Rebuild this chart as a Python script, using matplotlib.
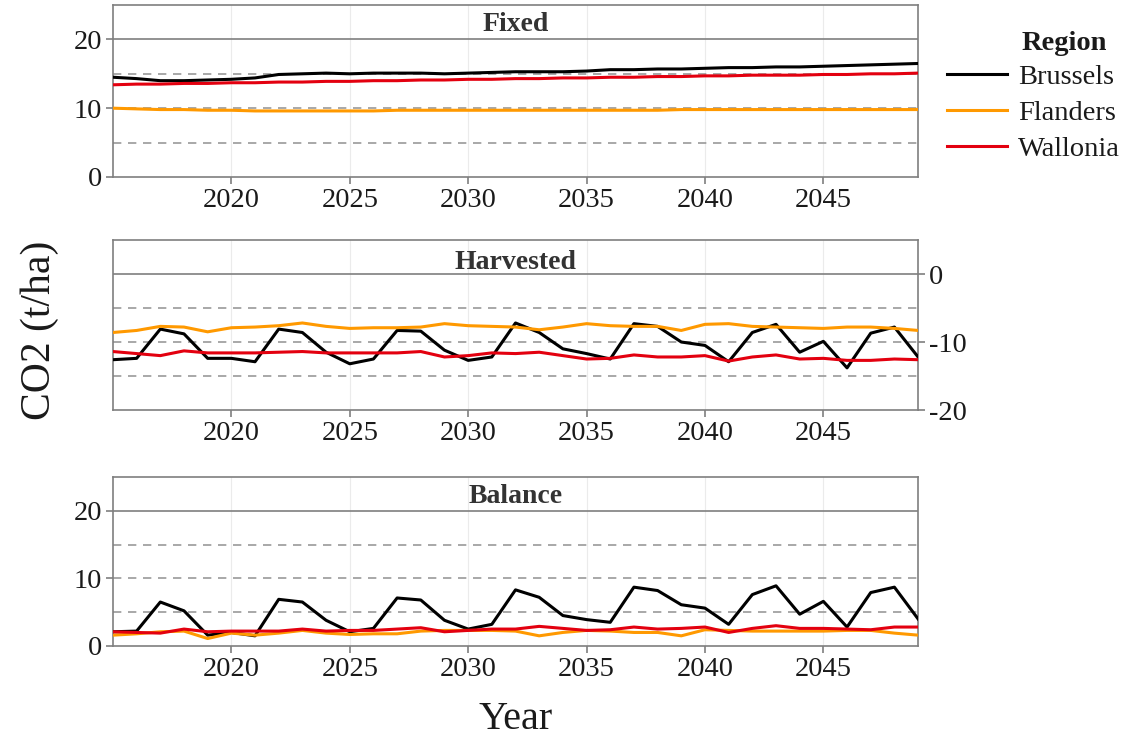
import matplotlib.pyplot as plt
import numpy as np

plt.rcParams['font.family'] = ['Liberation Serif', 'DejaVu Serif']
plt.rcParams['axes.unicode_minus'] = False

years = list(range(2015, 2050))

# Fixed
fixed_brussels = [14.5, 14.3, 14.0, 14.0, 14.1, 14.2, 14.4, 14.9, 15.0, 15.1, 15.0, 15.1, 15.1, 15.1, 15.0, 15.1,
                  15.2, 15.3, 15.3, 15.3, 15.4, 15.6, 15.6, 15.7, 15.7, 15.8, 15.9, 15.9, 16.0, 16.0, 16.1, 16.2,
                  16.3, 16.4, 16.5]
fixed_flanders = [10.0, 9.9, 9.8, 9.8, 9.7, 9.7, 9.6, 9.6, 9.6, 9.6, 9.6, 9.6, 9.7, 9.7, 9.7, 9.7, 9.7, 9.7,
                  9.7, 9.7, 9.7, 9.7, 9.7, 9.7, 9.8, 9.8, 9.8, 9.8, 9.8, 9.8, 9.8, 9.8, 9.8, 9.8, 9.8]
fixed_wallonia = [13.4, 13.5, 13.5, 13.6, 13.6, 13.7, 13.7, 13.8, 13.8, 13.9, 13.9, 14.0, 14.0, 14.1, 14.1, 14.2,
                  14.2, 14.3, 14.3, 14.4, 14.4, 14.5, 14.5, 14.6, 14.6, 14.7, 14.7, 14.8, 14.8, 14.8, 14.9, 14.9,
                  15.0, 15.0, 15.1]

# Harvested
harv_brussels = [-12.6, -12.4, -8.1, -8.8, -12.4, -12.4, -12.9, -8.1, -8.6, -11.5, -13.2, -12.5, -8.3, -8.4,
                 -11.2, -12.7, -12.2, -7.2, -8.6, -11.0, -11.7, -12.5, -7.3, -7.7, -10.0, -10.5, -12.9, -8.6,
                 -7.4, -11.5, -9.9, -13.8, -8.7, -7.8, -12.2]
harv_flanders = [-8.6, -8.3, -7.7, -7.8, -8.5, -7.9, -7.8, -7.6, -7.2, -7.7, -8.0, -7.9, -7.9, -7.8, -7.3, -7.6,
                 -7.7, -7.8, -8.2, -7.8, -7.3, -7.6, -7.7, -7.7, -8.3, -7.4, -7.3, -7.7, -7.8, -7.9, -8.0, -7.8,
                 -7.8, -8.0, -8.3]
harv_wallonia = [-11.4, -11.7, -12.0, -11.3, -11.6, -11.6, -11.6, -11.5, -11.4, -11.6, -11.6, -11.6, -11.6,
                 -11.4, -12.2, -12.0, -11.6, -11.7, -11.5, -12.0, -12.5, -12.4, -11.9, -12.2, -12.2, -12.0,
                 -12.8, -12.2, -11.9, -12.5, -12.4, -12.7, -12.7, -12.5, -12.6]

# Balance
bal_brussels = [2.1, 2.2, 6.5, 5.2, 1.6, 2.0, 1.5, 6.9, 6.5, 3.8, 2.1, 2.6, 7.1, 6.8, 3.8, 2.5, 3.2, 8.3, 7.2,
                4.5, 3.9, 3.5, 8.7, 8.2, 6.1, 5.6, 3.2, 7.6, 8.9, 4.7, 6.6, 2.8, 7.9, 8.7, 4.0]
bal_flanders = [1.6, 1.8, 2.1, 2.2, 1.1, 1.9, 1.6, 1.9, 2.3, 1.9, 1.7, 1.8, 1.8, 2.2, 2.3, 2.3, 2.3, 2.2, 1.5,
                2.0, 2.3, 2.2, 2.0, 2.0, 1.5, 2.4, 2.3, 2.2, 2.2, 2.2, 2.2, 2.3, 2.3, 1.9, 1.6]
bal_wallonia = [2.1, 2.0, 1.9, 2.5, 2.1, 2.2, 2.2, 2.2, 2.5, 2.2, 2.3, 2.3, 2.5, 2.7, 2.1, 2.3, 2.5, 2.5, 2.9,
                2.6, 2.3, 2.4, 2.8, 2.5, 2.6, 2.8, 2.0, 2.6, 3.0, 2.6, 2.6, 2.5, 2.4, 2.8, 2.8]

regions = ['Brussels', 'Flanders', 'Wallonia']
colors = ['black', '#FF9900', '#E3000F']

panels = [
    ('Fixed', [fixed_brussels, fixed_flanders, fixed_wallonia], (0, 25), [0, 10, 20], [5, 10, 15], 20, 22.1, 'left'),
    ('Harvested', [harv_brussels, harv_flanders, harv_wallonia], (-20, 5), [-20, -10, 0], [-5, -10, -15], 0, 1.7, 'right'),
    ('Balance', [bal_brussels, bal_flanders, bal_wallonia], (0, 25), [0, 10, 20], [5, 10, 15], 20, 22.1, 'left'),
]
boxes = [[0.0996, 0.7602, 0.71, 0.2330],
         [0.0996, 0.4444, 0.71, 0.2304],
         [0.0996, 0.1247, 0.71, 0.2290]]

fig = plt.figure(figsize=(11.34, 7.38), dpi=100)
grey = '#7f7f7f'
handles = []
for (title, series, ylim, yticks, dashes, solid, ty, side), box in zip(panels, boxes):
    ax = fig.add_axes(box)
    for x in range(2020, 2050, 5):
        ax.axvline(x, color='#ebebeb', lw=0.8, zorder=0)
    for d in dashes:
        ax.axhline(d, color='#9a9a9a', lw=1.2, ls=(0, (5, 4)), zorder=1)
    ax.axhline(solid, color=grey, lw=1.2, zorder=1)
    for vals, c, name in zip(series, colors, regions):
        ln, = ax.plot(years, vals, color=c, lw=2.2, label=name, zorder=3)
        if title == 'Fixed':
            handles.append(ln)
    ax.text(2032, ty, title, ha='center', va='center', fontsize=20, fontweight='bold', color='#333333')
    ax.set_xlim(2015, 2049)
    ax.set_ylim(*ylim)
    ax.set_xticks(range(2020, 2050, 5))
    ax.set_yticks(yticks)
    if side == 'right':
        ax.yaxis.tick_right()
    for s in ax.spines.values():
        s.set_color(grey)
        s.set_linewidth(1.2)
    ax.tick_params(length=5, width=1.2, color=grey, labelsize=20.5, labelcolor='#1a1a1a', pad=3)

fig.text(0.035, 0.553, 'CO2 (t/ha)', rotation=90, ha='center', va='center', fontsize=30, color='#1a1a1a')
fig.text(0.455, 0.025, 'Year', ha='center', va='center', fontsize=29, color='#1a1a1a')

leg = fig.legend(handles=handles, labels=regions, loc='upper left', bbox_to_anchor=(0.825, 0.929),
                 frameon=False, fontsize=20.5, handlelength=2.1, handletextpad=0.4,
                 labelspacing=0.36, borderaxespad=0)
for t in leg.get_texts():
    t.set_color('#1a1a1a')
fig.text(0.901, 0.941, 'Region', ha='left', va='center', fontsize=20.5, fontweight='bold', color='#1a1a1a')

fig.savefig('out.png', dpi=100)
